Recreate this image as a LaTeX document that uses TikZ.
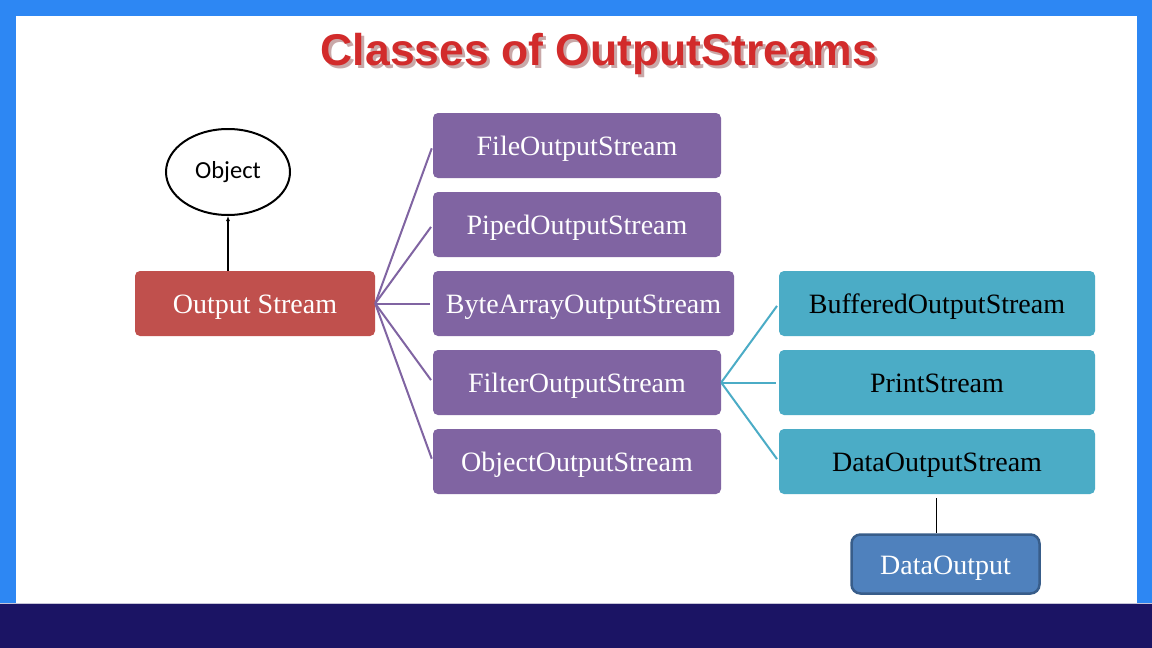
\documentclass[tikz,border=0pt]{standalone}
\usepackage{fontspec}
\setmainfont{Liberation Serif}
\newfontfamily\titlefont{Liberation Sans}
\newfontfamily\objfont{Carlito}
\usetikzlibrary{arrows.meta,shapes.geometric}
\definecolor{frameblue}{HTML}{2D87F3}
\definecolor{navyband}{HTML}{1B1464}
\definecolor{osred}{HTML}{C0504D}
\definecolor{purpbox}{HTML}{8064A2}
\definecolor{tealbox}{HTML}{4BACC6}
\definecolor{doblue}{HTML}{4F81BD}
\definecolor{doborder}{HTML}{385D8A}
\definecolor{titlered}{HTML}{D22B2B}
\definecolor{titleshadow}{HTML}{C9A8A8}
\begin{document}
\begin{tikzpicture}[x=1pt,y=-1pt,
  box/.style={rounded corners=5pt, minimum height=65pt, inner sep=0pt,
    text height=25pt, text depth=5pt,
    font=\fontsize{28}{32}\selectfont},
  redbox/.style={box, fill=osred, text=white},
  purple/.style={box, fill=purpbox, text=white},
  tealb/.style={box, fill=tealbox, text=black},
  plink/.style={draw=purpbox, line width=2pt, shorten >=3pt},
  tlink/.style={draw=tealbox, line width=2pt, shorten >=3pt}]
\useasboundingbox (0,0) rectangle (1152,648);
\fill[frameblue] (0,0) rectangle (1152,648);
\fill[white] (16,16) rectangle (1137,603);
\fill[navyband] (0,603) rectangle (1152,648);
\draw[white!75!navyband, line width=1pt] (0,603.5) -- (1152,603.5);
% title with shadow
\node[text=titlered, font=\titlefont\bfseries\fontsize{44.5}{50}\selectfont] (title) at (599,55)
  {\rlap{\raisebox{-3pt}{\hspace{3pt}\color{titleshadow}Classes of OutputStreams}}Classes of OutputStreams};
% object
\node[draw=black, line width=2pt, ellipse, minimum width=124pt, minimum height=86pt, inner sep=0pt,
  font=\objfont\fontsize{24.5}{28}\selectfont] (obj) at (228,172) {Object};
% output stream
\node[redbox, minimum width=240pt] (os) at (255,303.5) {Output Stream};
% purple
\node[purple, minimum width=288pt] (p1) at (577,145.5) {FileOutputStream};
\node[purple, minimum width=288pt] (p2) at (577,224.5) {PipedOutputStream};
\node[purple, minimum width=301pt] (p3) at (583.5,303.5) {ByteArrayOutputStream};
\node[purple, minimum width=288pt] (p4) at (577,382.5) {FilterOutputStream};
\node[purple, minimum width=288pt] (p5) at (577,461.5) {ObjectOutputStream};
% teal
\node[tealb, minimum width=316pt] (t1) at (937,303.5) {BufferedOutputStream};
\node[tealb, minimum width=316pt] (t2) at (937,382.5) {PrintStream};
\node[tealb, minimum width=316pt] (t3) at (937,461.5) {DataOutputStream};
% data output
\node[box, minimum width=188pt, minimum height=59pt, fill=doblue, draw=doborder, line width=2.5pt,
  text=white, rounded corners=9pt] (do) at (945.5,564) {DataOutput};
% connectors
\draw[line width=1.5pt, -{Latex[length=5pt,width=4pt]}] (obj.south |- os.north) -- (obj.south);
\foreach \n in {p1,p2,p3,p4,p5} \draw[plink] (os.east) -- (\n.west);
\foreach \n in {t1,t2,t3} \draw[tlink] (p4.east) -- (\n.west);
\draw[black, line width=1pt] ([xshift=-1pt,yshift=-4pt]t3.south) -- ([xshift=-1pt]t3.south |- do.north);
\end{tikzpicture}
\end{document}
